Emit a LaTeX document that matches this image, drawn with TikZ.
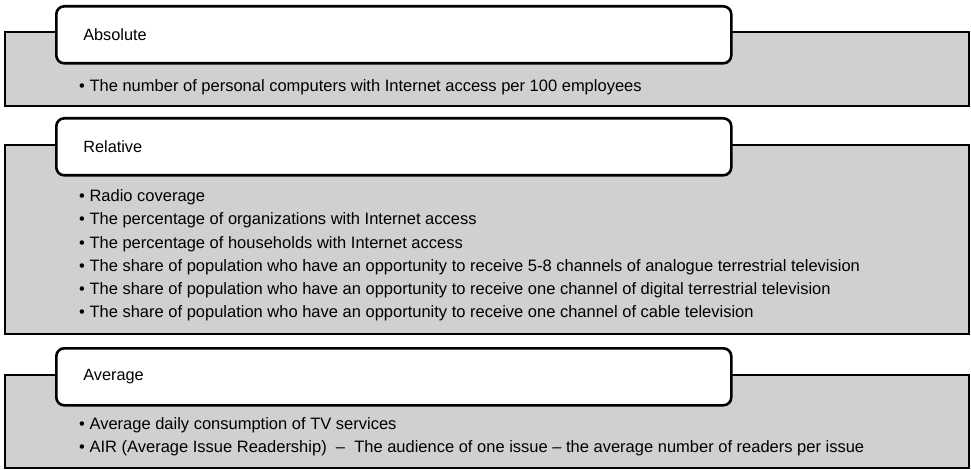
\documentclass[tikz,border=0pt]{standalone}
\usepackage{fontspec}
\setmainfont{Liberation Sans}
\usetikzlibrary{positioning}

\definecolor{panelgray}{HTML}{D0D0D0}
\tikzset{
    panel/.style={draw=black, line width=2.6pt, fill=panelgray},
    tab/.style={draw=black, line width=2.6pt, fill=white, rounded corners=8pt,
        anchor=north west, minimum width=675pt, minimum height=57pt,
        text width=621pt, inner xsep=27pt, inner ysep=0pt, align=left,
        font=\fontsize{16.3}{19}\selectfont},
    items/.style={anchor=north west, inner sep=0pt, align=left,
        font=\fontsize{16.5}{23.2}\selectfont}
}

\begin{document}
\begin{tikzpicture}[x=1pt,y=1pt]

    \useasboundingbox (0,0) rectangle (971,-470);

    % absolute
    \draw[panel] (5,-32) rectangle (969,-106);
    \node[tab] (abstab) at (55,-5) {Absolute};
    \node[items] (absitems) at (79,-79.5) {\textbullet\ The number of personal computers with Internet access per 100 employees};

    % relative
    \draw[panel] (5,-145) rectangle (969,-334);
    \node[tab] (reltab) at (55,-117) {Relative};
    \node[items] (relitems) at (79,-189.5) {\textbullet\ Radio coverage\\
        \textbullet\ The percentage of organizations with Internet access\\
        \textbullet\ The percentage of households with Internet access\\
        \textbullet\ The share of population who have an opportunity to receive 5-8 channels of analogue terrestrial television\\
        \textbullet\ The share of population who have an opportunity to receive one channel of digital terrestrial television\\
        \textbullet\ The share of population who have an opportunity to receive one channel of cable television};

    % average
    \draw[panel] (5,-375) rectangle (969,-468);
    \node[tab] (avgtab) at (55,-347) {Average};
    \node[items] (avgitems) at (79,-417.5) {\textbullet\ Average daily consumption of TV services\\
        \textbullet\ AIR (Average Issue Readership) \ -- \ The audience of one issue -- the average number of readers per issue};

\end{tikzpicture}
\end{document}
